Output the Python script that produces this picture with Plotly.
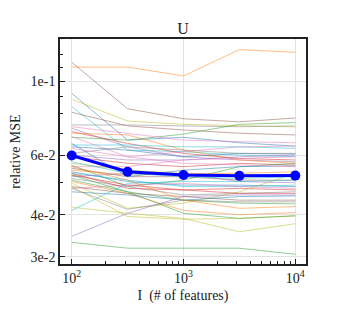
"""Relative MSE vs number of features for the U factor, one thin line per run plus the mean."""

import plotly.graph_objects as go

FEATURES = [100, 316, 1000, 3162, 10000]

MEAN_MSE = [0.0600, 0.0537, 0.0525, 0.0522, 0.0523]

RUNS = [
    [0.1100, 0.1100, 0.1035, 0.1240, 0.1217],
    [0.1137, 0.0827, 0.0772, 0.0756, 0.0776],
    [0.0919, 0.0667, 0.0680, 0.0655, 0.0640],
    [0.0882, 0.0760, 0.0743, 0.0735, 0.0730],
    [0.0839, 0.0623, 0.0616, 0.0602, 0.0595],
    [0.0807, 0.0735, 0.0715, 0.0699, 0.0691],
    [0.0740, 0.0740, 0.0735, 0.0731, 0.0735],
    [0.0680, 0.0667, 0.0695, 0.0743, 0.0752],
    [0.0731, 0.0699, 0.0667, 0.0660, 0.0655],
    [0.0723, 0.0637, 0.0595, 0.0582, 0.0575],
    [0.0707, 0.0652, 0.0609, 0.0588, 0.0582],
    [0.0699, 0.0691, 0.0623, 0.0582, 0.0569],
    [0.0645, 0.0645, 0.0637, 0.0637, 0.0630],
    [0.0683, 0.0595, 0.0616, 0.0637, 0.0640],
    [0.0637, 0.0623, 0.0595, 0.0609, 0.0606],
    [0.0609, 0.0637, 0.0623, 0.0609, 0.0609],
    [0.0602, 0.0582, 0.0582, 0.0595, 0.0602],
    [0.0595, 0.0569, 0.0556, 0.0569, 0.0562],
    [0.0569, 0.0543, 0.0531, 0.0519, 0.0525],
    [0.0562, 0.0485, 0.0507, 0.0556, 0.0569],
    [0.0556, 0.0556, 0.0582, 0.0588, 0.0595],
    [0.0550, 0.0519, 0.0519, 0.0507, 0.0507],
    [0.0543, 0.0525, 0.0531, 0.0531, 0.0537],
    [0.0537, 0.0502, 0.0490, 0.0490, 0.0485],
    [0.0531, 0.0507, 0.0485, 0.0485, 0.0490],
    [0.0525, 0.0490, 0.0474, 0.0479, 0.0474],
    [0.0519, 0.0531, 0.0531, 0.0502, 0.0498],
    [0.0513, 0.0485, 0.0458, 0.0463, 0.0468],
    [0.0507, 0.0468, 0.0442, 0.0433, 0.0431],
    [0.0502, 0.0463, 0.0412, 0.0400, 0.0406],
    [0.0496, 0.0418, 0.0433, 0.0468, 0.0531],
    [0.0485, 0.0463, 0.0453, 0.0442, 0.0442],
    [0.0479, 0.0490, 0.0496, 0.0485, 0.0479],
    [0.0468, 0.0458, 0.0442, 0.0453, 0.0455],
    [0.0575, 0.0531, 0.0519, 0.0513, 0.0519],
    [0.0479, 0.0415, 0.0442, 0.0437, 0.0437],
    [0.0531, 0.0479, 0.0474, 0.0463, 0.0463],
    [0.0421, 0.0404, 0.0390, 0.0356, 0.0376],
    [0.0485, 0.0395, 0.0388, 0.0390, 0.0397],
    [0.0412, 0.0496, 0.0502, 0.0502, 0.0507],
    [0.0345, 0.0404, 0.0453, 0.0458, 0.0458],
    [0.0331, 0.0318, 0.0318, 0.0318, 0.0305],
    [0.0556, 0.0507, 0.0442, 0.0418, 0.0423],
    [0.0525, 0.0468, 0.0404, 0.0390, 0.0397],
    [0.0652, 0.0519, 0.0543, 0.0556, 0.0559],
    [0.0630, 0.0595, 0.0569, 0.0562, 0.0556],
]

RUN_COLORS = [
    "#ff7f0e", "#8c564b", "#1f77b4", "#bcbd22", "#17becf", "#8c564b",
    "#7f7f7f", "#2ca02c", "#e377c2", "#9467bd", "#d62728", "#ff7f0e",
    "#17becf", "#e377c2", "#1f77b4", "#7f7f7f", "#9467bd", "#d62728",
    "#bcbd22", "#2ca02c", "#e377c2", "#8c564b", "#ff7f0e", "#1f77b4",
    "#17becf", "#d62728", "#9467bd", "#7f7f7f", "#2ca02c", "#ff7f0e",
    "#bcbd22", "#8c564b", "#e377c2", "#1f77b4", "#17becf", "#7f7f7f",
    "#d62728", "#bcbd22", "#bcbd22", "#17becf", "#9467bd", "#2ca02c",
    "#ff7f0e", "#2ca02c", "#1f77b4", "#e377c2",
]

X_TICKS = [100, 1000, 10000]
X_TICK_TEXT = ["10<sup>2</sup>", "10<sup>3</sup>", "10<sup>4</sup>"]
Y_TICKS = [0.03, 0.04, 0.06, 0.1]
Y_TICK_TEXT = ["3e-2", "4e-2", "6e-2", "1e-1"]

FONT = "Liberation Serif"

fig = go.Figure()

for run, color in zip(RUNS, RUN_COLORS):
    fig.add_trace(
        go.Scatter(
            x=FEATURES,
            y=run,
            mode="lines",
            line=dict(color=color, width=1),
            opacity=0.5,
            showlegend=False,
            hoverinfo="skip",
        )
    )

fig.add_trace(
    go.Scatter(
        x=FEATURES,
        y=MEAN_MSE,
        mode="lines+markers",
        line=dict(color="#0000ff", width=3),
        marker=dict(color="#0000ff", size=10),
        showlegend=False,
    )
)

x_minor = [m * 10**e for e in (2, 3) for m in range(2, 10)]
y_minor = [0.05, 0.07, 0.08, 0.09, 0.11, 0.12]

# the page body adds an 8px margin, so the figure is a bit smaller than the window
fig.update_layout(
    width=333,
    height=323,
    margin=dict(l=52, r=35, t=31, b=67),
    paper_bgcolor="white",
    plot_bgcolor="white",
    font=dict(family=FONT, size=14, color="#222"),
    title=dict(text="U", x=0.5255, xanchor="center", y=0.936, yanchor="middle",
               font=dict(family=FONT, size=16, color="#222")),
    xaxis=dict(
        type="log",
        range=[1.895, 4.096],
        automargin=False,
        tickvals=X_TICKS,
        ticktext=X_TICK_TEXT,
        ticks="inside",
        ticklen=5,
        tickcolor="#222",
        showline=True,
        linecolor="#222",
        linewidth=1.5,
        mirror=True,
        showgrid=True,
        gridcolor="#e3e3e3",
        gridwidth=1,
        zeroline=False,
        minor=dict(tickvals=x_minor, ticks="inside", ticklen=3, tickcolor="#222", showgrid=False),
        title=dict(text="I  (# of features)", font=dict(family=FONT, size=14), standoff=6),
    ),
    yaxis=dict(
        type="log",
        range=[-1.5446, -0.875],
        automargin=False,
        tickvals=Y_TICKS,
        ticktext=Y_TICK_TEXT,
        ticks="inside",
        ticklen=5,
        tickcolor="#222",
        showline=True,
        linecolor="#222",
        linewidth=1.5,
        mirror=True,
        showgrid=True,
        gridcolor="#e3e3e3",
        gridwidth=1,
        zeroline=False,
        minor=dict(tickvals=y_minor, ticks="inside", ticklen=3, tickcolor="#222", showgrid=False),
        title=dict(text="relative MSE", font=dict(family=FONT, size=14), standoff=8),
    ),
)

fig.write_html("out.html")
